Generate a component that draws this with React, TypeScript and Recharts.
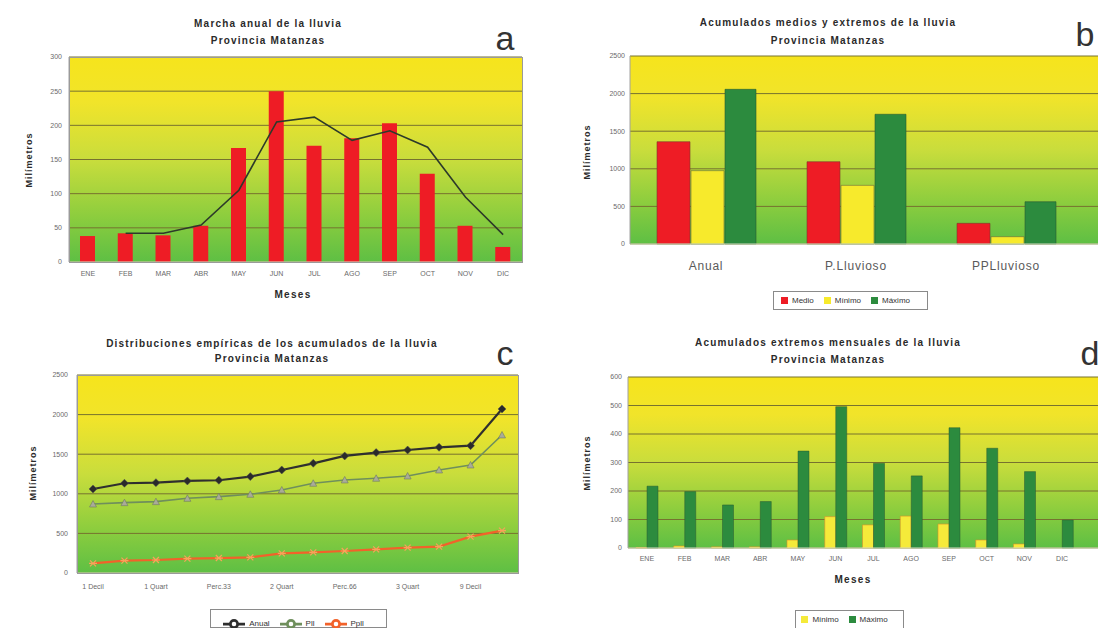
import React from 'react';
import {
  ComposedChart, BarChart, LineChart, Bar, Line, XAxis, YAxis, CartesianGrid, Legend,
} from 'recharts';

// ---------- data ----------
const meses = ['ENE', 'FEB', 'MAR', 'ABR', 'MAY', 'JUN', 'JUL', 'AGO', 'SEP', 'OCT', 'NOV', 'DIC'];
const lluviaMensual = [38, 42, 39, 53, 167, 250, 170, 181, 203, 129, 53, 22];
const mediaMovil = [null, 42, 42, 54, 105, 205, 212, 178, 192, 168, 95, 40];

const periodos = ['Anual', 'P.Lluvioso', 'PPLluvioso'];
const medio = [1360, 1094, 275];
const minimo = [975, 780, 97];
const maximo = [2057, 1725, 562];

const percentiles = ['1 Decil', '2 Decil', '1 Quart', '3 Decil', 'Perc.33', '4 Decil', '2 Quart', '6 Decil', 'Perc.66', '7 Decil', '3 Quart', '8 Decil', '9 Decil', 'Máx'];
const anual = [1061, 1133, 1141, 1162, 1171, 1217, 1301, 1385, 1478, 1520, 1553, 1587, 1608, 2071];
const pll = [871, 888, 901, 943, 964, 994, 1048, 1133, 1175, 1196, 1225, 1301, 1364, 1743];
const ppll = [122, 156, 164, 181, 189, 198, 248, 261, 278, 299, 320, 333, 459, 535];

const minimoMes = [2, 7, 4, 4, 28, 110, 81, 112, 84, 28, 14, 0];
const maximoMes = [217, 198, 151, 163, 340, 496, 297, 253, 422, 350, 268, 98];

const ticksA = [0, 50, 100, 150, 200, 250, 300];
const ticksB = [0, 500, 1000, 1500, 2000, 2500];
const ticksC = [0, 500, 1000, 1500, 2000, 2500];
const ticksD = [0, 100, 200, 300, 400, 500, 600];

const ordenB = ['Medio', 'Mínimo', 'Máximo'];
const ordenC = ['Anual', 'Pll', 'Ppll'];
const ordenD = ['Mínimo', 'Máximo'];

// ---------- tables ----------
const dataA = meses.map((m, i) => ({ mes: m, lluvia: lluviaMensual[i], media: mediaMovil[i] }));
const dataB = periodos.map((p, i) => ({ periodo: p, Medio: medio[i], 'Mínimo': minimo[i], 'Máximo': maximo[i] }));
const dataC = percentiles.map((p, i) => ({ p, Anual: anual[i], Pll: pll[i], Ppll: ppll[i] }));
const dataD = meses.map((m, i) => ({ mes: m, 'Mínimo': minimoMes[i], 'Máximo': maximoMes[i] }));

// ---------- styles ----------
const FONT = '"Liberation Sans", Arial, Helvetica, sans-serif';
const GRID = '#77722f';
const AXIS = '#a0a0a0';
const tickSmall = { fontSize: 7, fill: '#6a6a6a', fontFamily: FONT };

const Grad = ({ id }: { id: string }) => (
  <defs>
    <linearGradient id={id} x1="0" y1="0" x2="0" y2="1">
      <stop offset="0%" stopColor="#f6e41c" />
      <stop offset="22%" stopColor="#f1e42a" />
      <stop offset="50%" stopColor="#c9dd3c" />
      <stop offset="78%" stopColor="#8ccd3e" />
      <stop offset="100%" stopColor="#5ebf44" />
    </linearGradient>
  </defs>
);

const abs = (s: React.CSSProperties): React.CSSProperties => ({ position: 'absolute', fontFamily: FONT, ...s });

const Title = ({ x, y, lh, lines }: { x: number; y: number; lh: number; lines: string[] }) => (
  <div style={abs({ left: x, top: y - lh / 2, transform: 'translateX(-50%)', textAlign: 'center', fontWeight: 'bold', fontSize: 10, letterSpacing: 1.2, lineHeight: `${lh}px`, color: '#2a2a2a', whiteSpace: 'nowrap' })}>
    {lines.map((l) => <div key={l}>{l}</div>)}
  </div>
);

const YTitle = ({ x, y }: { x: number; y: number }) => (
  <div style={abs({ left: x, top: y, transform: 'translate(-50%,-50%) rotate(-90deg)', fontWeight: 'bold', fontSize: 9, letterSpacing: 1, color: '#2a2a2a', whiteSpace: 'nowrap' })}>Milímetros</div>
);

const XTitle = ({ x, y }: { x: number; y: number }) => (
  <div style={abs({ left: x, top: y, transform: 'translate(-50%,-50%)', fontWeight: 'bold', fontSize: 10, letterSpacing: 1.3, color: '#2a2a2a' })}>Meses</div>
);

const Letter = ({ x, y, t }: { x: number; y: number; t: string }) => (
  <div style={abs({ left: x, top: y, transform: 'translate(-50%,-50%)', fontSize: 34, lineHeight: 1, color: '#333' })}>{t}</div>
);

const Frame = ({ l, t, w, h }: { l: number; t: number; w: number; h: number }) => (
  <div style={{ position: 'absolute', left: l, top: t, width: w, height: h, border: '1px solid #9a9a9a', boxSizing: 'border-box', pointerEvents: 'none' }} />
);

const legendText = (v: any) => <span style={{ color: '#333', fontSize: 8, fontFamily: FONT }}>{v}</span>;
const legendBox = (left: number, top: number, width: number): React.CSSProperties => ({
  left, top, width, height: 19, border: '1px solid #8a8a8a', background: '#fff', boxSizing: 'border-box', paddingTop: 3, lineHeight: '11px', fontSize: 8,
});
const sorter = (orden: string[]) => (item: any) => orden.indexOf(String(item.value ?? item.dataKey));

// dots for chart c
const diamondDot = (p: any) => (
  <path key={`an-${p.index}`} d={`M${p.cx},${p.cy - 4}L${p.cx + 4},${p.cy}L${p.cx},${p.cy + 4}L${p.cx - 4},${p.cy}Z`} fill="#2a2a2a" stroke="#555" strokeWidth={0.5} />
);
const triDot = (p: any) => (
  <path key={`pl-${p.index}`} d={`M${p.cx},${p.cy - 3.5}L${p.cx + 3.5},${p.cy + 3}L${p.cx - 3.5},${p.cy + 3}Z`} fill="#a9ab98" stroke="#6f7a60" strokeWidth={0.6} />
);
const starDot = (p: any) => (
  <path key={`pp-${p.index}`} d={`M${p.cx - 3},${p.cy - 3}L${p.cx + 3},${p.cy + 3}M${p.cx - 3},${p.cy + 3}L${p.cx + 3},${p.cy - 3}M${p.cx - 4},${p.cy}L${p.cx + 4},${p.cy}`} stroke="#f7a35a" strokeWidth={1.2} fill="none" />
);

export default function App() {
  return (
    <div style={{ position: 'fixed', left: 0, top: 0, width: 1098, height: 628, overflow: 'hidden', background: '#fff', fontFamily: FONT }}>
      {/* ---------- a ---------- */}
      <div style={{ position: 'absolute', left: 0, top: 0 }}>
        <ComposedChart width={560} height={310} data={dataA} margin={{ top: 57, right: 38, bottom: 28, left: 39 }}>
          <Grad id="gA" />
          <CartesianGrid vertical={false} fill="url(#gA)" fillOpacity={1} stroke={GRID} strokeWidth={1} />
          <XAxis dataKey="mes" height={20} interval={0} tick={tickSmall} tickLine={false} tickSize={0} tickMargin={9} axisLine={{ stroke: '#d8e8c8' }} />
          <YAxis width={30} domain={[0, 300]} ticks={ticksA} interval={0} tick={tickSmall} tickLine={false} tickSize={0} tickMargin={7} axisLine={{ stroke: AXIS }} />
          <Bar dataKey="lluvia" fill="#ee1c25" barSize={15} isAnimationActive={false} />
          <Line dataKey="media" stroke="#2d3a2a" strokeWidth={1.6} dot={false} connectNulls isAnimationActive={false} type="linear" />
        </ComposedChart>
      </div>
      <Frame l={69} t={57} w={454} h={206} />
      <Title x={268} y={23} lh={17} lines={['Marcha anual de la lluvia', 'Provincia Matanzas']} />
      <Letter x={505} y={38} t="a" />
      <YTitle x={29} y={160} />
      <XTitle x={293} y={294} />

      {/* ---------- b ---------- */}
      <div style={{ position: 'absolute', left: 550, top: 0 }}>
        <BarChart width={548} height={315} data={dataB} margin={{ top: 56, right: 0, bottom: 41, left: 40 }} barGap={1}>
          <Grad id="gB" />
          <CartesianGrid vertical={false} fill="url(#gB)" fillOpacity={1} stroke={GRID} strokeWidth={1} />
          <XAxis dataKey="periodo" height={30} interval={0} padding={{ left: 1, right: 17 }} tick={{ fontSize: 12, fill: '#5a5a5a', fontFamily: FONT, letterSpacing: 0.8 }} tickLine={false} tickSize={0} tickMargin={17} axisLine={{ stroke: '#d8e8c8' }} />
          <YAxis width={40} domain={[0, 2500]} ticks={ticksB} interval={0} tick={tickSmall} tickLine={false} tickSize={0} tickMargin={5} axisLine={{ stroke: AXIS }} />
          <Legend layout="horizontal" verticalAlign="middle" align="center" iconType="square" iconSize={7} width={155} itemSorter={sorter(ordenB)} formatter={legendText} wrapperStyle={legendBox(223, 291, 155)} />
          <Bar dataKey="Medio" fill="#ee1c25" stroke="#7a3a2a" strokeWidth={0.6} barSize={33} isAnimationActive={false} />
          <Bar dataKey="Mínimo" fill="#f7ea2c" stroke="#6a6a3a" strokeWidth={0.6} barSize={33} isAnimationActive={false} />
          <Bar dataKey="Máximo" fill="#2c8b3e" stroke="#2a5a30" strokeWidth={0.6} barSize={31} isAnimationActive={false} />
        </BarChart>
      </div>
      <Title x={828} y={23} lh={18} lines={['Acumulados medios y extremos de la lluvia', 'Provincia Matanzas']} />
      <Letter x={1085} y={34} t="b" />
      <YTitle x={587} y={152} />

      {/* ---------- c ---------- */}
      <div style={{ position: 'absolute', left: 0, top: 320 }}>
        <LineChart width={560} height={308} data={dataC} margin={{ top: 55, right: 42, bottom: 35, left: 40 }}>
          <Grad id="gC" />
          <CartesianGrid vertical={false} fill="url(#gC)" fillOpacity={1} stroke={GRID} strokeWidth={1} />
          <XAxis dataKey="p" height={20} interval={1} padding={{ left: 16, right: 16 }} tick={tickSmall} tickLine={false} tickSize={0} tickMargin={11} axisLine={{ stroke: '#d8e8c8' }} />
          <YAxis width={37} domain={[0, 2500]} ticks={ticksC} interval={0} tick={tickSmall} tickLine={false} tickSize={0} tickMargin={9} axisLine={{ stroke: AXIS }} />
          <Legend layout="horizontal" verticalAlign="middle" align="center" iconSize={22} width={177} itemSorter={sorter(ordenC)} formatter={legendText} wrapperStyle={legendBox(210, 289, 177)} />
          <Line dataKey="Anual" stroke="#2f2f2f" strokeWidth={2.2} dot={diamondDot} isAnimationActive={false} type="linear" />
          <Line dataKey="Pll" stroke="#6f8f5c" strokeWidth={1.6} dot={triDot} isAnimationActive={false} type="linear" />
          <Line dataKey="Ppll" stroke="#f2622a" strokeWidth={2.2} dot={starDot} isAnimationActive={false} type="linear" />
        </LineChart>
      </div>
      <Frame l={77} t={375} w={442} h={199} />
      <Title x={272} y={343} lh={15} lines={['Distribuciones empíricas de los acumulados de la lluvia', 'Provincia Matanzas']} />
      <Letter x={505} y={353} t="c" />
      <YTitle x={33} y={473} />

      {/* ---------- d ---------- */}
      <div style={{ position: 'absolute', left: 550, top: 320 }}>
        <BarChart width={548} height={308} data={dataD} margin={{ top: 57, right: 0, bottom: 60, left: 40 }} barGap={0}>
          <Grad id="gD" />
          <CartesianGrid vertical={false} fill="url(#gD)" fillOpacity={1} stroke={GRID} strokeWidth={1} />
          <XAxis dataKey="mes" height={20} interval={0} padding={{ left: 0, right: 17 }} tick={tickSmall} tickLine={false} tickSize={0} tickMargin={8} axisLine={{ stroke: '#d8e8c8' }} />
          <YAxis width={38} domain={[0, 600]} ticks={ticksD} interval={0} tick={tickSmall} tickLine={false} tickSize={0} tickMargin={6} axisLine={{ stroke: AXIS }} />
          <Legend layout="horizontal" verticalAlign="middle" align="center" iconType="square" iconSize={7} width={109} itemSorter={sorter(ordenD)} formatter={legendText} wrapperStyle={legendBox(245, 290, 109)} />
          <Bar dataKey="Mínimo" fill="#f5ea3a" stroke="#d9902a" strokeWidth={0.6} barSize={11} isAnimationActive={false} />
          <Bar dataKey="Máximo" fill="#2c8b3e" stroke="#2a5a30" strokeWidth={0.5} barSize={11} isAnimationActive={false} />
        </BarChart>
      </div>
      <Title x={828} y={342} lh={17} lines={['Acumulados extremos mensuales de la lluvia', 'Provincia Matanzas']} />
      <Letter x={1090} y={353} t="d" />
      <YTitle x={587} y={463} />
      <XTitle x={853} y={579} />
    </div>
  );
}
